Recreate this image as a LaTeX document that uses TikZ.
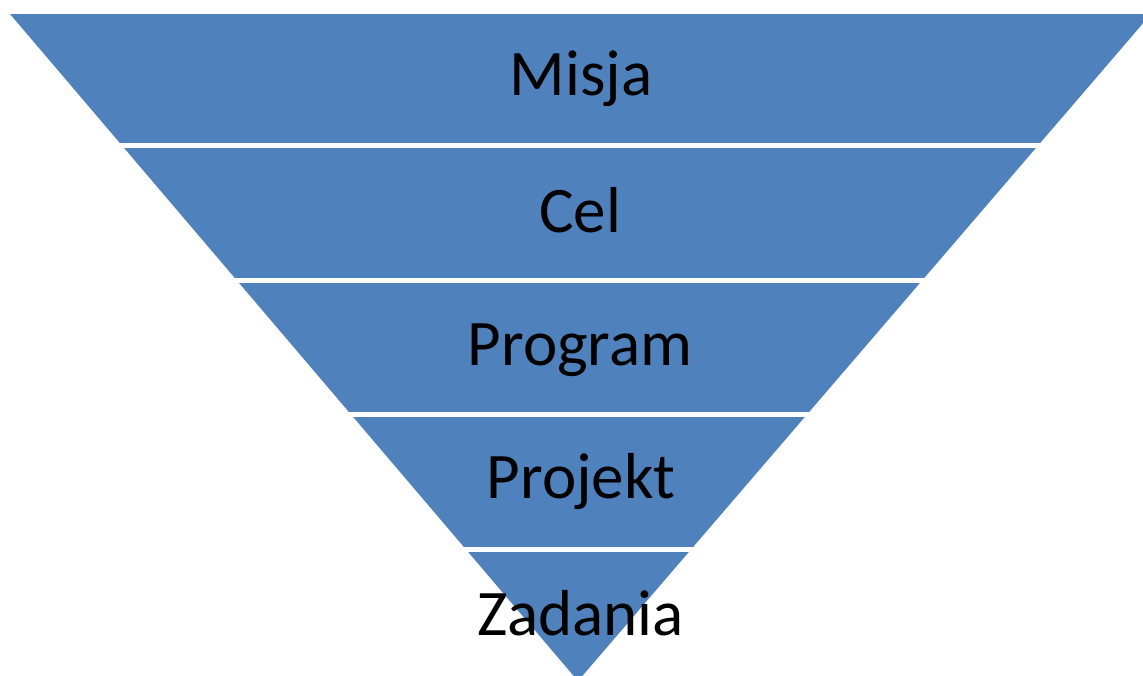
\documentclass[tikz,border=0pt]{standalone}
\usepackage{fontspec}
\setmainfont{Carlito}
\definecolor{bandblue}{HTML}{4F81BD}
\tikzset{
  band/.style={fill=bandblue, draw=none},
  lbl/.style={anchor=base, text=black, inner sep=0pt, font=\fontsize{65}{78}\selectfont}
}
\begin{document}
\begin{tikzpicture}[x=1pt,y=-1pt]
\useasboundingbox (0,0) rectangle (1143,675);
\coordinate (tl) at (10,14);
\coordinate (tr) at (1151,14);
\coordinate (apex) at (578,681);
\begin{scope}
  \clip (0,0) rectangle (1143,675);
  \clip (tl) -- (tr) -- (apex) -- cycle;
  \fill[band] (0,14) rectangle (1160,143);
  \fill[band] (0,148) rectangle (1160,278);
  \fill[band] (0,283) rectangle (1160,412);
  \fill[band] (0,417) rectangle (1160,547);
  \fill[band] (0,552) rectangle (1160,690);
\end{scope}
\node[lbl] (misja) at (581,95) {Misja};
\node[lbl] (cel) at (580,232) {Cel};
\node[lbl] (program) at (580,365) {Program};
\node[lbl] (projekt) at (581,498) {Projekt};
\node[lbl] (zadania) at (580.5,635) {Zadania};
\end{tikzpicture}
\end{document}
